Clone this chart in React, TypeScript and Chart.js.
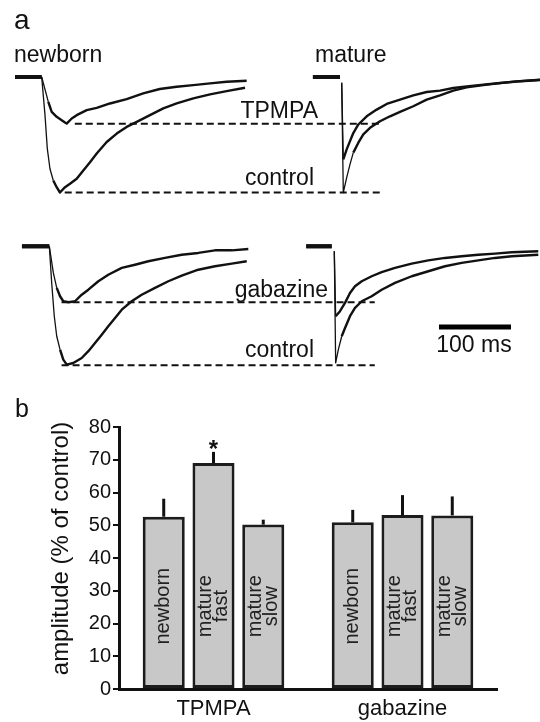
import React, { useEffect, useRef } from 'react';
import { Chart, registerables } from 'chart.js';

Chart.register(...registerables);

const FONT = '"Liberation Sans", Arial, Helvetica, sans-serif';

// ---------- Panel a: current traces, [time from onset (ms), amplitude (% of control peak)] ----------
const newbornTPMPA: [number, number | null][] = [
  [-37, 0], [0, 0], [9.2, -21.5], [13.9, -30.2], [20.8, -34.5], [27.8, -37.4], [32.4, -39.4],
  [34.7, -40.3], [41.7, -35.9], [48.6, -33], [62.5, -28.7], [76.4, -26.7], [94.9, -22.9],
  [118, -19.1], [141, -14.2], [164, -10.4], [187.5, -8.4], [210.6, -7.0], [233.8, -5.5],
  [256.9, -4.1], [284.7, -3.2],
];
const newbornControlTop: [number, number | null][] = [
  [-37, 0], [0, 0], [4.6, -33], [7.8, -62], [11.5, -79.4], [16.1, -89.6], [20.8, -95.4],
  [25.4, -100], [32.4, -95.4], [39.3, -92.4], [48.6, -88.1], [57.8, -80.9], [67.1, -73.7],
  [76.4, -66.3], [90.3, -56.3], [104.2, -49], [118, -43.2], [132, -38.9], [150.4, -33],
  [168.9, -27.2], [187.5, -22.9], [210.6, -18.5], [233.8, -15], [256.9, -12.2], [282.4, -9.3],
];
const matureTPMPA: [number, number | null][] = [
  [-40, 0], [-2.4, 0], [-1, null], [0, -5], [2.2, -71.3], [6.9, -62.7], [11.5, -55.5],
  [16.1, -48.5], [23.1, -41.1], [34.7, -34], [48.6, -28.2], [62.5, -23.3], [81, -19.6],
  [99.4, -15.9], [118, -13], [136.5, -11.8], [155, -9.5], [173.6, -8.1], [196.7, -6.6],
  [219.9, -5.2], [243, -3.8], [275.4, -2.3],
];
const matureControlTop: [number, number | null][] = [
  [-40, 0], [-2.4, 0], [-1, null], [0, -5], [2.2, -100], [6.9, -87.1], [11.5, -75.6],
  [16.1, -65.5], [23.1, -56.9], [30, -49.7], [39.3, -44], [53.2, -38.3], [67.1, -34],
  [81, -30.2], [99.4, -25.3], [118, -19.6], [136.5, -15.9], [155, -11.8], [173.6, -9],
  [196.7, -7], [219.9, -5.3], [243, -3.9], [275.4, -2.6],
];
const newbornGabazine: [number, number | null][] = [
  [-38, 0], [0, 0], [5.6, -22.4], [10.3, -35], [14.9, -42], [19.4, -46.2], [27, -47],
  [35.7, -46.2], [45, -40.7], [54.2, -36.5], [68.1, -29.4], [81.9, -23.9], [100.6, -18.2],
  [119, -15.5], [137.5, -12.6], [160.7, -9.8], [183.9, -7.1], [206.9, -5.6], [230.1, -3.4],
  [253.3, -3.4], [276.4, -2.3],
];
const newbornControlBottom: [number, number | null][] = [
  [-38, 0], [0, 0], [3.3, -30.8], [6.9, -58.8], [10.3, -75.6], [14.9, -86.9], [19.4, -95.3],
  [24.2, -99.5], [33.3, -98.1], [45, -93.9], [54.2, -88.2], [63.5, -81.3], [72.8, -74.3],
  [81.9, -67.2], [91.3, -60.3], [100.6, -53.3], [114.4, -46.2], [128.3, -40.7], [146.8, -35],
  [165.3, -29.4], [183.9, -24.7], [206.9, -19.7], [230.1, -16.8], [253.3, -14.6], [274.2, -12.6],
];
const matureGabazine: [number, number | null][] = [
  [-39, 0], [-3.6, 0], [-1, null], [0, -4.2], [1.9, -58.8], [7.9, -54.6], [14.9, -47.6],
  [21.8, -39.2], [28.75, -33.6], [38.1, -29.4], [51.9, -25.2], [65.8, -21.8], [84.3, -18.2],
  [107.5, -14.6], [130.6, -11.8], [153.8, -9.8], [176.9, -8.4], [200, -7.1], [223.2, -6.2],
  [246.4, -5.0], [283.3, -4.2],
];
const matureControlBottom: [number, number | null][] = [
  [-39, 0], [-3.6, 0], [-1, null], [0, -4.2], [1.9, -98], [5.6, -86.9], [10.3, -75.6],
  [14.9, -68.7], [21.8, -58.8], [28.75, -51.8], [38.1, -46.2], [51.9, -42], [65.8, -36.5],
  [84.3, -30.8], [107.5, -25.2], [130.6, -21], [153.8, -16.8], [176.9, -14], [200, -11.8],
  [223.2, -9.8], [246.4, -8.4], [283.3, -7.1],
];
// dashed reference levels (newborn peaks) [start ms, end ms, level %]
const refTPMPA = [46, 470, -40.5];
const refControlTop = [32, 470, -100];
const refGabazine = [17, 452, -47];
const refControlBottom = [17, 452, -100];
// scale bar: 100 ms
const scaleBar = [145.4, 245.4, -67.8];

// ---------- Panel b: bar chart ----------
const groups = ['TPMPA', 'gabazine'];
const cellTypes = [['newborn'], ['mature', 'fast'], ['mature', 'slow']];
const newbornAmp = [52.6, 50.9];
const matureFastAmp = [69.0, 53.1];
const matureSlowAmp = [50.2, 53.0];
const newbornSem = [5.5, 3.8];
const matureFastSem = [3.4, 6.1];
const matureSlowSem = [1.5, 5.8];
const significant = [[false, false], [true, false], [false, false]];
const yTicks = { min: 0, max: 80, step: 10 };

const toXY = (arr: [number, number | null][]) => arr.map(([x, y]) => ({ x, y }));

const segWidth = (ctx: any) => {
  const p0 = ctx.p0.parsed;
  const p1 = ctx.p1.parsed;
  if (p0.y === 0 && p1.y === 0) return 4;
  const slope = Math.abs(p1.y - p0.y) / Math.max(0.01, Math.abs(p1.x - p0.x));
  return slope > 2 ? 1.3 : 2.4;
};

const traceDs = (data: [number, number | null][], xAxisID: string, yAxisID: string) => ({
  data: toXY(data),
  xAxisID,
  yAxisID,
  borderColor: '#111',
  borderWidth: 2.4,
  pointRadius: 0,
  tension: 0,
  spanGaps: false,
  borderJoinStyle: 'round' as const,
  segment: { borderWidth: segWidth },
});

const dashDs = (r: number[], xAxisID: string, yAxisID: string) => ({
  data: [{ x: r[0], y: r[2] }, { x: r[1], y: r[2] }],
  xAxisID,
  yAxisID,
  borderColor: '#111',
  borderWidth: 2,
  borderDash: [7, 4],
  pointRadius: 0,
});

const traceLabels = [
  { text: 'a', x: 14, y: 29, size: 28, align: 'left' },
  { text: 'newborn', x: 14, y: 62, size: 23, align: 'left' },
  { text: 'mature', x: 315, y: 62, size: 23, align: 'left' },
  { text: 'TPMPA', x: 318, y: 118, size: 23, align: 'right' },
  { text: 'control', x: 314, y: 185, size: 23, align: 'right' },
  { text: 'gabazine', x: 328, y: 297, size: 23, align: 'right' },
  { text: 'control', x: 314, y: 357, size: 23, align: 'right' },
  { text: '100 ms', x: 474, y: 352, size: 23, align: 'center' },
];

const traceLabelPlugin = {
  id: 'traceLabels',
  afterDraw(chart: any) {
    const { ctx } = chart;
    ctx.save();
    ctx.fillStyle = '#111';
    ctx.textBaseline = 'alphabetic';
    traceLabels.forEach((l) => {
      ctx.font = `${l.size}px ${FONT}`;
      ctx.textAlign = l.align;
      ctx.fillText(l.text, l.x, l.y);
    });
    ctx.restore();
  },
};

const barSems = [newbornSem, matureFastSem, matureSlowSem];

const barExtrasPlugin = {
  id: 'barExtras',
  afterDatasetsDraw(chart: any) {
    const { ctx } = chart;
    const y = chart.scales.y;
    chart.data.datasets.forEach((ds: any, di: number) => {
      const meta = chart.getDatasetMeta(di);
      meta.data.forEach((bar: any, i: number) => {
        const v = ds.data[i];
        const top = y.getPixelForValue(v + barSems[di][i]);
        ctx.save();
        ctx.strokeStyle = '#111';
        ctx.lineWidth = 3;
        ctx.beginPath();
        ctx.moveTo(bar.x, bar.y);
        ctx.lineTo(bar.x, top);
        ctx.stroke();
        if (significant[di][i]) {
          ctx.fillStyle = '#111';
          ctx.font = `bold 24px ${FONT}`;
          ctx.textAlign = 'center';
          ctx.textBaseline = 'alphabetic';
          const m = ctx.measureText('*');
          const descent = m.actualBoundingBoxDescent || -10;
          ctx.fillText('*', bar.x, top - 2.5 - descent);
        }
        ctx.translate(bar.x, y.getPixelForValue(25.3));
        ctx.rotate(-Math.PI / 2);
        ctx.fillStyle = '#222';
        ctx.font = `20px ${FONT}`;
        ctx.textAlign = 'center';
        ctx.textBaseline = 'middle';
        const lines = cellTypes[di];
        lines.forEach((ln, k) => ctx.fillText(ln, 0, (k - (lines.length - 1) / 2) * 16.5));
        ctx.restore();
      });
    });
  },
  afterDraw(chart: any) {
    const { ctx } = chart;
    ctx.save();
    ctx.fillStyle = '#111';
    ctx.font = `25px ${FONT}`;
    ctx.textAlign = 'left';
    ctx.textBaseline = 'alphabetic';
    ctx.fillText('b', 15, 32);
    ctx.translate(61, 163.5);
    ctx.rotate(-Math.PI / 2);
    ctx.font = `24px ${FONT}`;
    ctx.textAlign = 'center';
    ctx.textBaseline = 'middle';
    ctx.fillText('amplitude (% of control)', 0, 0);
    ctx.restore();
  },
};

export default function App() {
  const traceRef = useRef<HTMLCanvasElement>(null);
  const barRef = useRef<HTMLCanvasElement>(null);

  useEffect(() => {
    const hidden = (axis: string, min: number, max: number, position: string) => ({
      type: 'linear' as const, axis, position, display: false, min, max,
    });
    const traces = new Chart(traceRef.current!, {
      type: 'line',
      data: {
        datasets: [
          traceDs(newbornTPMPA, 'xTL', 'yTop'),
          traceDs(newbornControlTop, 'xTL', 'yTop'),
          traceDs(matureTPMPA, 'xTR', 'yTop'),
          traceDs(matureControlTop, 'xTR', 'yTop'),
          traceDs(newbornGabazine, 'xBL', 'yBot'),
          traceDs(newbornControlBottom, 'xBL', 'yBot'),
          traceDs(matureGabazine, 'xBR', 'yBot'),
          traceDs(matureControlBottom, 'xBR', 'yBot'),
          dashDs(refTPMPA, 'xTL', 'yTop'),
          dashDs(refControlTop, 'xTL', 'yTop'),
          dashDs(refGabazine, 'xBL', 'yBot'),
          dashDs(refControlBottom, 'xBL', 'yBot'),
          {
            data: [{ x: scaleBar[0], y: scaleBar[2] }, { x: scaleBar[1], y: scaleBar[2] }],
            xAxisID: 'xBR', yAxisID: 'yBot', borderColor: '#000', borderWidth: 5,
            borderCapStyle: 'butt', pointRadius: 0,
          },
        ] as any,
      },
      options: {
        responsive: false,
        animation: false,
        events: [],
        layout: { padding: 0 },
        plugins: { legend: { display: false }, tooltip: { enabled: false } },
        scales: {
          xTL: hidden('x', -57.9, 692.1, 'bottom'),
          xTR: hidden('x', -474.6, 275.4, 'bottom'),
          xBL: hidden('x', -68.5, 681.5, 'bottom'),
          xBR: hidden('x', -464.3, 285.7, 'bottom'),
          yTop: hidden('y', -266.7, 66.7, 'left'),
          yBot: hidden('y', -116.6, 207, 'left'),
        } as any,
      },
      plugins: [traceLabelPlugin],
    });

    const barBase = { backgroundColor: '#c8c8c8', borderColor: '#1c1c1c', borderWidth: 3, borderSkipped: false };
    const bars = new Chart(barRef.current!, {
      type: 'bar',
      data: {
        labels: groups,
        datasets: [
          { ...barBase, label: 'newborn', data: newbornAmp },
          { ...barBase, label: 'mature fast', data: matureFastAmp },
          { ...barBase, label: 'mature slow', data: matureSlowAmp },
        ] as any,
      },
      options: {
        responsive: false,
        animation: false,
        events: [],
        datasets: { bar: { categoryPercentage: 0.79, barPercentage: 0.845 } },
        layout: { padding: { left: 0, right: 43, top: 42, bottom: 0 } },
        plugins: { legend: { display: false }, tooltip: { enabled: false } },
        scales: {
          x: {
            type: 'category',
            offset: true,
            grid: { display: false, drawTicks: false },
            border: { display: true, color: '#111', width: 3 },
            ticks: { color: '#111', font: { family: FONT, size: 22 }, padding: 7, maxRotation: 0 },
            afterFit: (s: any) => { s.height = 33; },
          },
          y: {
            type: 'linear',
            min: yTicks.min,
            max: yTicks.max,
            grid: { display: true, drawOnChartArea: false, drawTicks: true, tickLength: 6, color: '#111', lineWidth: 2 },
            border: { display: true, color: '#111', width: 3 },
            ticks: { stepSize: yTicks.step, color: '#111', font: { family: FONT, size: 20 }, padding: 2 },
            afterFit: (s: any) => { s.width = 119; },
          },
        } as any,
      },
      plugins: [barExtrasPlugin],
    });

    return () => {
      traces.destroy();
      bars.destroy();
    };
  }, []);

  return (
    <div style={{ position: 'absolute', left: 0, top: 0, width: 540, height: 722, background: '#fff' }}>
      <canvas ref={traceRef} width={540} height={385} style={{ position: 'absolute', left: 0, top: 0, width: 540, height: 385 }} />
      <canvas ref={barRef} width={540} height={337} style={{ position: 'absolute', left: 0, top: 385, width: 540, height: 337 }} />
    </div>
  );
}
